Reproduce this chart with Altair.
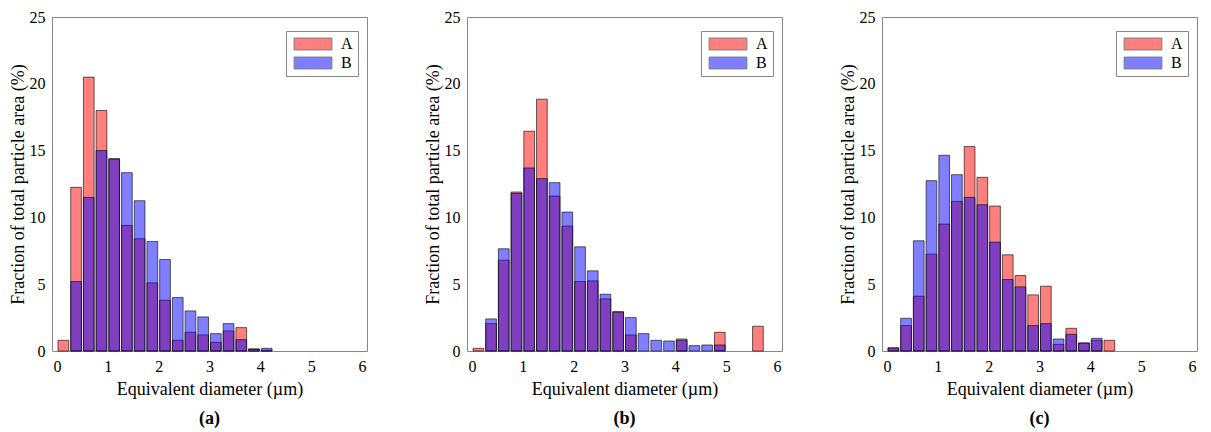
import altair as alt
import pandas as pd

# bin centres of the 0.25 um histogram bins
bin_centers = [0.125, 0.375, 0.625, 0.875, 1.125, 1.375, 1.625, 1.875, 2.125, 2.375,
               2.625, 2.875, 3.125, 3.375, 3.625, 3.875, 4.125, 4.375, 4.625, 4.875,
               5.125, 5.375, 5.625]

# panel (a)
a_A = [0.8, 12.25, 20.5, 18.0, 14.35, 9.4, 8.4, 5.1, 3.8, 0.8,
       1.4, 1.2, 0.65, 1.5, 1.75, 0.15, 0.05, 0, 0, 0, 0, 0, 0]
a_B = [0, 5.2, 11.5, 15.0, 14.4, 13.35, 11.25, 8.2, 6.85, 4.0,
       3.0, 2.55, 1.3, 2.05, 0.85, 0.15, 0.2, 0, 0, 0, 0, 0, 0]
# panel (b)
b_A = [0.2, 2.05, 6.8, 11.9, 16.45, 18.85, 11.6, 9.35, 5.2, 5.25,
       3.9, 2.95, 1.2, 0, 0, 0, 0.9, 0, 0, 1.4, 0, 0, 1.85]
b_B = [0, 2.4, 7.65, 11.8, 13.7, 12.9, 12.6, 10.4, 7.8, 6.0,
       4.25, 2.9, 2.5, 1.3, 0.8, 0.75, 0.8, 0.4, 0.45, 0.45, 0, 0, 0]
# panel (c)
c_A = [0.25, 1.9, 4.1, 7.25, 9.5, 11.2, 15.3, 13.0, 10.85, 7.2,
       5.65, 4.2, 4.85, 0.5, 1.7, 0.6, 0.8, 0.8, 0, 0, 0, 0, 0]
c_B = [0.2, 2.45, 8.25, 12.75, 14.65, 13.2, 11.5, 10.95, 8.15, 5.35,
       4.8, 1.9, 2.05, 0.9, 1.25, 0.6, 0.95, 0, 0, 0, 0, 0, 0]

series_names = ["A", "B"]
series_colors = ["#FF0000", "#0000FF"]
panel_labels = ["(a)", "(b)", "(c)"]
x_ticks = [0, 1, 2, 3, 4, 5, 6]
y_ticks = [0, 5, 10, 15, 20, 25]

FONT = "Liberation Serif"
W, H = 315, 334


def make_df(A, B):
    rows = []
    for name, vals in (("A", A), ("B", B)):
        for c, v in zip(bin_centers, vals):
            rows.append({"d": c, "v": v, "s": name})
    return pd.DataFrame(rows)


def panel(A, B, label):
    df = make_df(A, B)
    bars = alt.Chart(df).transform_filter("datum.v > 0").mark_bar(
        size=10.7, fillOpacity=0.5, stroke="#000000", strokeOpacity=0.6, strokeWidth=1
    ).encode(
        x=alt.X("d:Q", scale=alt.Scale(domain=[0, 6], nice=False),
                axis=alt.Axis(values=x_ticks, title="Equivalent diameter (\u00b5m)",
                              format="d", labelPadding=7, titlePadding=6,
                              labelFont=FONT, titleFont=FONT)),
        y=alt.Y("v:Q", stack=None, scale=alt.Scale(domain=[0, 25], nice=False),
                axis=alt.Axis(values=y_ticks, title="Fraction of total particle area (%)",
                              format="d", labelPadding=7, titlePadding=2,
                              labelFont=FONT, titleFont=FONT)),
        color=alt.Color("s:N", scale=alt.Scale(domain=series_names, range=series_colors),
                        legend=alt.Legend(title=None, orient="none", legendX=234, legendY=14,
                                          symbolType="M-2.7,-0.85H2.7V0.85H-2.7Z",
                                          symbolSize=196, symbolOffset=14,
                                          symbolOpacity=0.5, symbolStrokeColor="#000000",
                                          symbolStrokeWidth=1, labelFont=FONT, labelFontSize=16,
                                          labelColor="#000000", strokeColor="#888888",
                                          fillColor="#ffffff", padding=5, rowPadding=3,
                                          labelOffset=20)),
        order=alt.Order("s:N"),
    ).properties(
        width=W, height=H,
        title=alt.TitleParams(text=label, orient="bottom", font=FONT, fontSize=18,
                              fontWeight="bold", color="#000000", offset=12, anchor="middle"),
    )
    return bars


chart = alt.hconcat(
    panel(a_A, a_B, panel_labels[0]),
    panel(b_A, b_B, panel_labels[1]),
    panel(c_A, c_B, panel_labels[2]),
    spacing=100,
    bounds="flush",
).resolve_scale(color="independent").resolve_legend(color="independent").properties(
    padding=0
).configure(
    font=FONT
).configure_view(
    stroke="#888888", strokeWidth=1
).configure_axis(
    grid=False, domain=False, ticks=False,
    labelFont=FONT, labelFontSize=16, labelColor="#000000",
    titleFont=FONT, titleFontSize=18, titleFontWeight="normal", titleColor="#000000",
)

chart.save("out.html", embed_options={"renderer": "svg", "actions": False})
